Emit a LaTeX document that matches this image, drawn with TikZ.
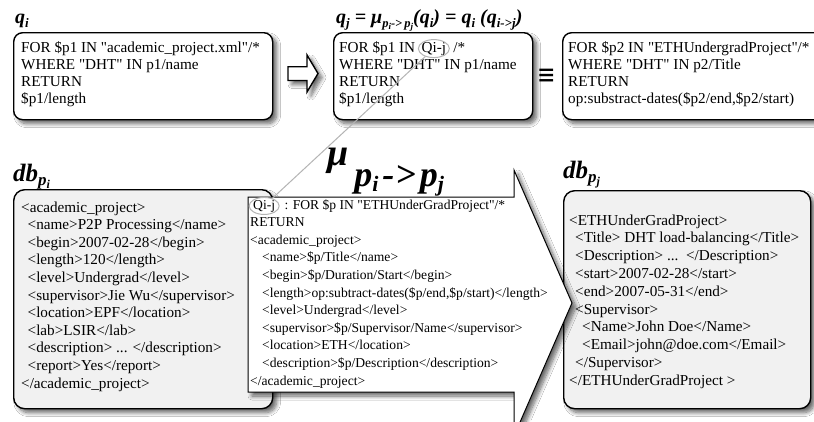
\documentclass[tikz,border=0pt]{standalone}
\usepackage{fontspec}
\setmainfont{Liberation Serif}[Ligatures=TeXOff]
\newfontfamily\symfont{DejaVu Sans}
\usepackage{graphicx}
\usetikzlibrary{shadows.blur,shapes.geometric}

% font size shortcut and a lowered (subscript-like) piece of text
\newcommand\fsz[1]{\fontsize{#1}{#1}\selectfont}
\newcommand\lowered[3]{\raisebox{-#1pt}{\fsz{#2}#3}}
% one line of a code listing
\newcommand\codeline[1]{\hbox{#1}}

\definecolor{boxgray}{HTML}{F1F1F1}
\definecolor{markgray}{HTML}{B4B4B4}

\tikzset{
  softshadow/.style={blur shadow={shadow xshift=4pt, shadow yshift=-4pt,
      shadow blur radius=4pt, shadow blur steps=8, shadow opacity=60}},
  qbox/.style={draw=black, line width=1.4pt, rounded corners=9pt, fill=white,
      anchor=north west, inner sep=0pt, softshadow},
  dbbox/.style={qbox, fill=boxgray, rounded corners=11pt},
  codetext/.style={anchor=base west, inner sep=0pt, font=\fontsize{15.2}{17}\selectfont},
  dbtext/.style={anchor=base west, inner sep=0pt, font=\fontsize{15.2}{17.6}\selectfont},
  maptext/.style={anchor=base west, inner sep=0pt, font=\fontsize{13.6}{17.6}\selectfont},
  lbl/.style={anchor=base west, inner sep=0pt, font=\bfseries\itshape},
  qmark/.style={ellipse, draw=markgray, line width=1pt, inner sep=0pt,
      minimum width=31pt, minimum height=18pt},
  linkline/.style={draw=markgray, line width=1pt},
  blockarrow/.style={draw=black, line width=1.4pt, fill=white, line join=miter, softshadow},
  maparrow/.style={draw=black, line width=1pt, fill=white, line join=miter, softshadow},
}

\begin{document}
\begin{tikzpicture}[x=1pt,y=-1pt]
\fill[white] (0,0) rectangle (814,421);
\useasboundingbox (0,0) rectangle (814,421);

% ---------- query boxes ----------
\node[qbox, minimum width=259pt, minimum height=87pt] (qi) at (13,32) {};
\node[qbox, minimum width=199pt, minimum height=87pt] (qj) at (333,32) {};
\node[qbox, minimum width=262pt, minimum height=87pt] (qk) at (562,32) {};

% rewriting arrow between the first two queries
\draw[blockarrow] (288,66.7) -- (307,66.7) -- (307,55) -- (318,73.5)
  -- (307,92) -- (307,80.5) -- (288,80.5) -- cycle;

% equivalence sign
\node[inner sep=0pt] (equiv) at (547,76.5) {\scalebox{1}[1.3]{\symfont\fsz{22}≡}};

% ---------- labels ----------
\node[lbl] (lqi) at (15,23) {\fsz{20}q\lowered{4}{13}{i}};
\node[lbl] (lqj) at (336,23) {\fsz{20}q\lowered{4}{13}{j} = μ\lowered{4}{12.5}{p\lowered{2}{9}{i}->\,p\lowered{2}{9}{j}}(q\lowered{4}{13}{i}) = q\lowered{4}{13}{i} (q\lowered{4}{13}{i->j})};
\node[lbl] (ldbi) at (13,181) {\fsz{25}db\lowered{4}{17}{p\lowered{3}{12}{i}}};
\node[lbl] (ldbj) at (563,178) {\fsz{25}db\lowered{4}{17}{p\lowered{3}{12}{j}}};

% ---------- query texts ----------
\node[codetext] (tqi) at (21,52) {\vtop{%
  \codeline{FOR \$p1 IN "academic\_project.xml"/*}
  \codeline{WHERE "DHT" IN p1/name}
  \codeline{RETURN}
  \codeline{\$p1/length}}};

\node[codetext] (tqja) at (339,52) {FOR \$p1 IN};
\node[codetext] (qref1) at ([xshift=6pt]tqja.base east) {Qi-j};
\node[codetext] (tqjb) at ([xshift=7pt]qref1.base east) {/*};
\node[codetext] (tqjc) at (339,69) {\vtop{%
  \codeline{WHERE "DHT" IN p1/name}
  \codeline{RETURN}
  \codeline{\$p1/length}}};

\node[codetext] (tqk) at (568,52) {\vtop{%
  \codeline{FOR \$p2 IN "ETHUndergradProject"/*}
  \codeline{WHERE "DHT" IN p2/Title}
  \codeline{RETURN}
  \codeline{op:substract-dates(\$p2/end,\$p2/start)}}};

% ---------- databases ----------
\node[dbbox, minimum width=259pt, minimum height=219pt] (dbi) at (13,189) {};
\node[dbbox, minimum width=247pt, minimum height=218pt] (dbj) at (563,190) {};

\node[dbtext] (tdbi) at (21,212) {\vtop{%
  \codeline{<academic\_project>}
  \codeline{\hspace*{6.5pt}<name>P2P Processing</name>}
  \codeline{\hspace*{6.5pt}<begin>2007-02-28</begin>}
  \codeline{\hspace*{6.5pt}<length>120</length>}
  \codeline{\hspace*{6.5pt}<level>Undergrad</level>}
  \codeline{\hspace*{6.5pt}<supervisor>Jie Wu</supervisor>}
  \codeline{\hspace*{6.5pt}<location>EPF</location>}
  \codeline{\hspace*{6.5pt}<lab>LSIR</lab>}
  \codeline{\hspace*{6.5pt}<description> ... </description>}
  \codeline{\hspace*{6.5pt}<report>Yes</report>}
  \codeline{</academic\_project>}}};

\node[dbtext, font=\fontsize{15.2}{17.8}\selectfont] (tdbj) at (569,225) {\vtop{%
  \codeline{<ETHUnderGradProject>}
  \codeline{\hspace*{6pt}<Title> DHT load-balancing</Title>}
  \codeline{\hspace*{6pt}<Description> ...\ \ </Description>}
  \codeline{\hspace*{6pt}<start>2007-02-28</start>}
  \codeline{\hspace*{6pt}<end>2007-05-31</end>}
  \codeline{\hspace*{6pt}<Supervisor>}
  \codeline{\hspace*{13pt}<Name>John Doe</Name>}
  \codeline{\hspace*{13pt}<Email>john@doe.com</Email>}
  \codeline{\hspace*{6pt}</Supervisor>}
  \codeline{</ETHUnderGradProject >}}};

% ---------- mapping arrow ----------
\draw[maparrow] (248,197) -- (514,197) -- (514,170) -- (572,303)
  -- (514,436) -- (514,392) -- (248,392) -- cycle;

\node[lbl] (lmu) at (327,165) {\fsz{38}μ\hspace{6pt}\lowered{21}{36}{p\lowered{5}{22}{i}\hspace{4pt}-\hspace{1pt}>\hspace{4pt}p\lowered{5}{22}{j}}};

\node[maptext] (qref2) at (253,209) {Qi-j};
\node[maptext] (tmapa) at ([xshift=9pt]qref2.base east) {: FOR \$p IN "ETHUnderGradProject"/*};
\node[maptext] (tmapb) at (250,226.6) {\vtop{%
  \codeline{RETURN}
  \codeline{<academic\_project>}
  \codeline{\hspace*{12pt}<name>\$p/Title</name>}
  \codeline{\hspace*{12pt}<begin>\$p/Duration/Start</begin>}
  \codeline{\hspace*{12pt}<length>op:subtract-dates(\$p/end,\$p/start)</length>}
  \codeline{\hspace*{12pt}<level>Undergrad</level>}
  \codeline{\hspace*{12pt}<supervisor>\$p/Supervisor/Name</supervisor>}
  \codeline{\hspace*{12pt}<location>ETH</location>}
  \codeline{\hspace*{12pt}<description>\$p/Description</description>}
  \codeline{</academic\_project>}}};

% ---------- marks on the mapping reference and their link ----------
\node[qmark] (mark1) at (qref1.center) {};
\node[qmark, minimum width=30pt, minimum height=17pt] (mark2) at (qref2.center) {};
\draw[linkline] (mark1) -- (mark2);

\end{tikzpicture}
\end{document}
